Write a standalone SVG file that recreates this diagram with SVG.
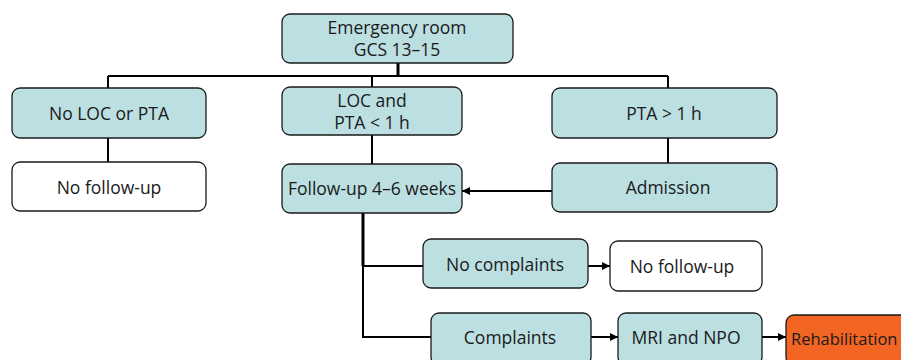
<svg xmlns="http://www.w3.org/2000/svg" width="901" height="360" viewBox="0 0 901 360">
<defs>
<style>
.n rect{fill:#bcdfe2;stroke:#1a1a1a;stroke-width:1.3}
.w rect{fill:#ffffff}
.o rect{fill:#f26522}
text{font-family:"Open Sans","Noto Sans","Liberation Sans",sans-serif;font-size:17.5px;fill:#1a1a1a;text-anchor:middle;dominant-baseline:central}
.c line,.c path{stroke:#000;stroke-width:2;fill:none}
</style>
<marker id="ah2" viewBox="0 0 10 10" refX="10" refY="5" markerWidth="8" markerHeight="8" orient="auto" markerUnits="userSpaceOnUse"><path d="M0,0L10,5L0,10z" fill="#000"/></marker>
</defs>
<g class="c" id="connectors">
<line x1="398" y1="63" x2="398" y2="76" style="stroke-width:3"/>
<line x1="108" y1="76" x2="668" y2="76"/>
<line x1="108" y1="76" x2="108" y2="88"/>
<line x1="372" y1="76" x2="372" y2="87"/>
<line x1="668" y1="76" x2="668" y2="88"/>
<line x1="108" y1="138" x2="108" y2="162"/>
<line x1="372" y1="135" x2="372" y2="164"/>
<line x1="668" y1="138" x2="668" y2="163"/>
<line x1="552" y1="191" x2="462" y2="191" marker-end="url(#ah2)"/>
<line x1="363" y1="213" x2="363" y2="266" style="stroke-width:3"/>
<path d="M363,264 V337 H431"/>
<line x1="363" y1="266" x2="423" y2="266"/>
<line x1="588" y1="266" x2="610" y2="266" marker-end="url(#ah2)"/>
<line x1="591" y1="337" x2="618" y2="337" marker-end="url(#ah2)"/>
<line x1="762" y1="337" x2="786" y2="337" marker-end="url(#ah2)"/>
</g>
<g class="n" id="er"><rect x="282" y="14" width="231" height="49" rx="8"/><text x="397" y="27">Emergency room</text><text x="397" y="49">GCS 13–15</text></g>
<g class="n" id="noloc"><rect x="12" y="88" width="194" height="50" rx="8"/><text x="109" y="113">No LOC or PTA</text></g>
<g class="n" id="loc"><rect x="282" y="87" width="180" height="48" rx="8"/><text x="372" y="100">LOC and</text><text x="372" y="122">PTA &lt; 1 h</text></g>
<g class="n" id="pta"><rect x="552" y="88" width="225" height="50" rx="8"/><text x="664" y="113">PTA &gt; 1 h</text></g>
<g class="n w" id="nofu1"><rect x="12" y="162" width="194" height="49" rx="8"/><text x="109" y="187">No follow-up</text></g>
<g class="n" id="fu"><rect x="282" y="164" width="180" height="49" rx="8"/><text x="372" y="188">Follow-up 4–6 weeks</text></g>
<g class="n" id="adm"><rect x="552" y="163" width="225" height="49" rx="8"/><text x="668" y="187">Admission</text></g>
<g class="n" id="nocomp"><rect x="423" y="239" width="165" height="49" rx="8"/><text x="505" y="264">No complaints</text></g>
<g class="n w" id="nofu2"><rect x="610" y="241" width="152" height="50" rx="8"/><text x="682" y="266">No follow-up</text></g>
<g class="n" id="comp"><rect x="431" y="313" width="160" height="52" rx="8"/><text x="510" y="337">Complaints</text></g>
<g class="n" id="mri"><rect x="618" y="313" width="144" height="52" rx="8"/><text x="686" y="337">MRI and NPO</text></g>
<g class="n o" id="rehab"><rect x="786" y="315" width="130" height="50" rx="8"/><text x="791" y="338" style="text-anchor:start;font-size:16.5px">Rehabilitation</text></g>
</svg>
